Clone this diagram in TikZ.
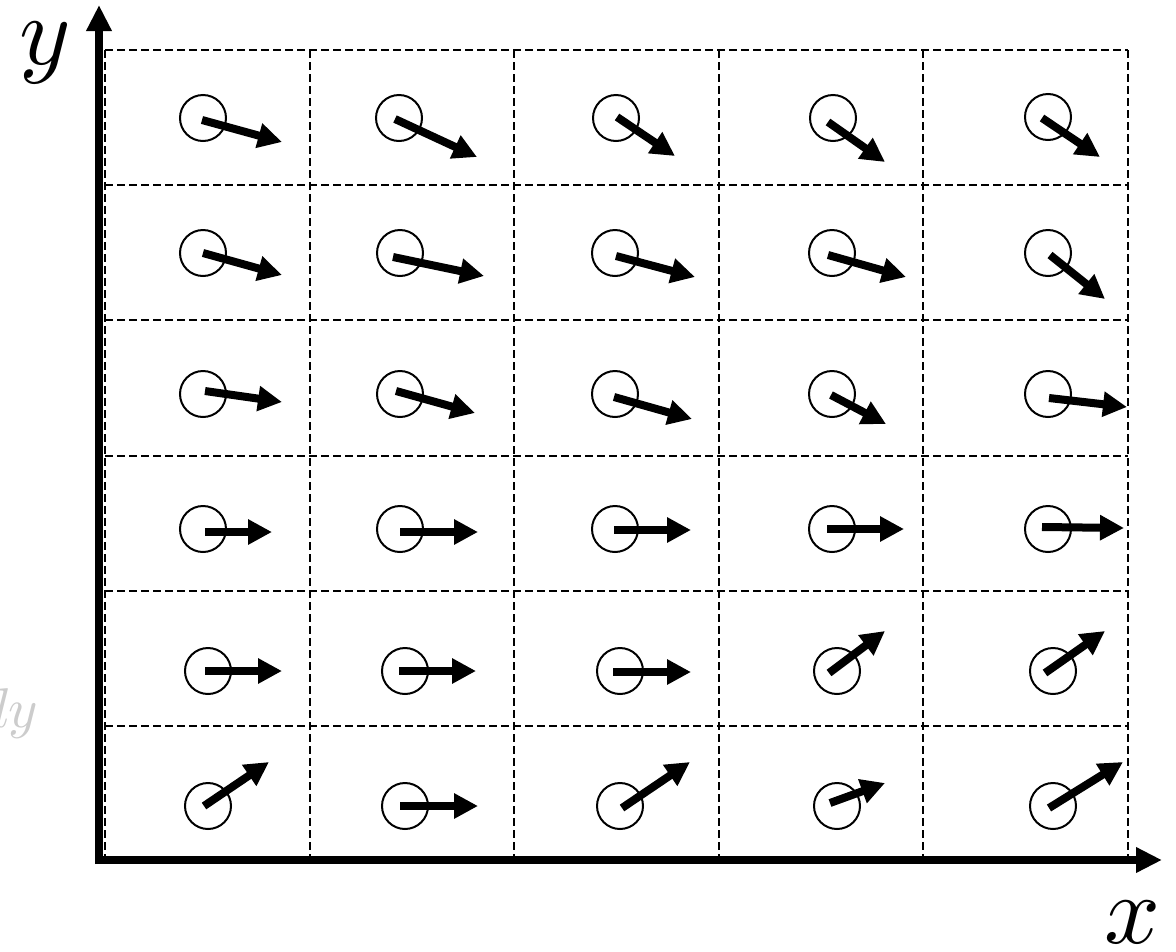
\documentclass[tikz,border=0pt]{standalone}
\usetikzlibrary{arrows.meta}
\begin{document}
\begin{tikzpicture}[x=1pt,y=-1pt,
  gridline/.style={draw=black,line width=2pt,dash pattern=on 8pt off 4pt},
  axisline/.style={draw=black,line width=8pt,-{Triangle[length=26pt,width=24pt]}},
  spin/.style={circle,draw=black,line width=2pt,minimum size=46pt,inner sep=0pt},
  vec/.style={draw=black,line width=8pt,-{Triangle[length=24pt,width=24pt]}},
  lab/.style={inner sep=0pt,font=\fontsize{10}{12}\selectfont,scale=9.8}]
\useasboundingbox (0,0) rectangle (1176,951);
% grid
\foreach \gx in {105,309.6,514.2,718.8,923.4,1128}
  \draw[gridline] (\gx,50) -- (\gx,861);
\foreach \gy in {50,185,320,455.5,591,726,861}
  \draw[gridline] (105,\gy) -- (1128,\gy);
% axes
\coordinate (o1) at (99,864);
\coordinate (ytip) at (99,5);
\coordinate (o2) at (95,860);
\coordinate (xtip) at (1162,860);
\draw[axisline] (o1) -- (ytip);
\draw[axisline] (o2) -- (xtip);
\node[lab,anchor=base west] (ylab) at (18,64) {$y$};
\node[lab,anchor=base west] (xlab) at (1103,943) {$x$};
\node[inner sep=0pt,anchor=base east,text=black!20,font=\fontsize{10}{12}\selectfont,scale=5.6] (dylab) at (39,727) {$dy$};
% spins
\foreach \n/\cx/\cy/\sx/\sy/\tx/\ty in {
 11/203/118/202/120/282/142,
 12/399/118/395/119/477/157,
 13/616/118/617/117/675/156,
 14/833/118/828/122/885/162,
 15/1048/117/1042/118/1100/157,
 21/203/253/203/253/282/275,
 22/400/253/393/257/484/276,
 23/615/253/616/256/695/277,
 24/832/253/828/255/906/277,
 25/1048/253/1050/255/1105/299,
 31/203/394/205/391/282/402,
 32/400/394/396/391/475/413,
 33/615/394/614/397/692/419,
 34/832/394/831/395/886/424,
 35/1048/394/1049/398/1127/407,
 41/203/529/205/532/272/532,
 42/400/529/400/532/478/532,
 43/615/529/614/530/691/530,
 44/832/529/827/529/904/529,
 45/1048/529/1042/527/1124/528,
 51/208/671/205/671/282/671,
 52/405/671/399/671/476/671,
 53/620/671/613/672/691/672,
 54/837/671/829/673/885/631,
 55/1053/671/1045/673/1105/631,
 61/208/806/204/806/269/762,
 62/405/806/400/806/478/806,
 63/620/806/622/808/690/762,
 64/837/806/830/803/885/783,
 65/1053/806/1049/808/1123/762}
{
  \node[spin] (c\n) at (\cx,\cy) {};
  \coordinate (s\n) at (\sx,\sy);
  \coordinate (t\n) at (\tx,\ty);
  \draw[vec] (s\n) -- (t\n);
}
\end{tikzpicture}
\end{document}
